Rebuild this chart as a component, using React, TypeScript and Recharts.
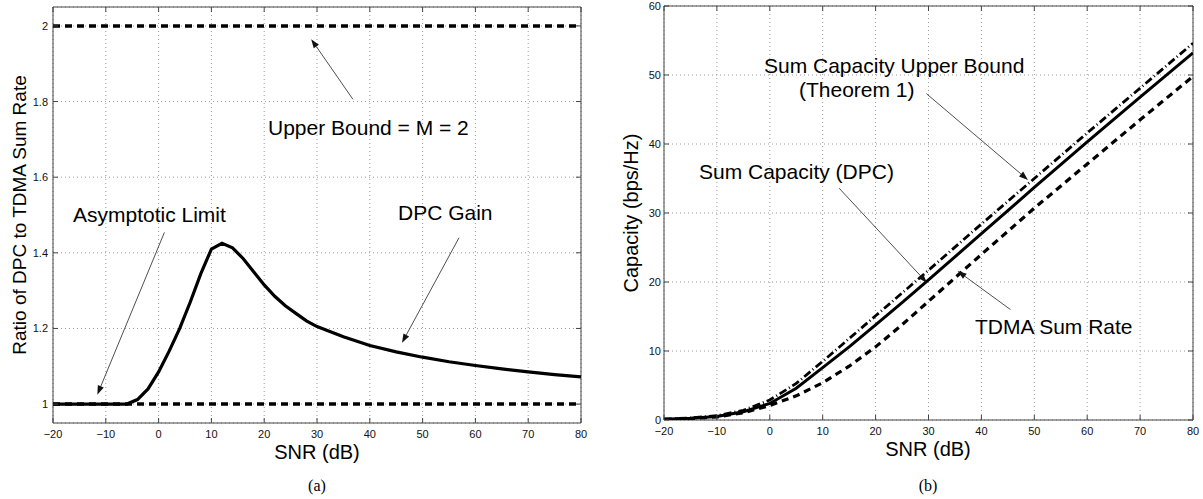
import React from 'react';
import { LineChart, Line, XAxis, YAxis, CartesianGrid, ReferenceLine, ReferenceArea } from 'recharts';

// ---------- data ----------
const snrTicks = [-20, -10, 0, 10, 20, 30, 40, 50, 60, 70, 80];
const ratioTicks = [1, 1.2, 1.4, 1.6, 1.8, 2];
const capTicks = [0, 10, 20, 30, 40, 50, 60];

const gainSnr = [-20, -6, -4, -2, 0, 2, 4, 6, 8, 10, 12, 14, 16, 18, 20, 22, 24, 26, 28, 30, 35, 40, 45, 50, 55, 60, 65, 70, 75, 80];
const gainRatio = [1.0, 1.0, 1.012, 1.04, 1.085, 1.14, 1.2, 1.27, 1.345, 1.41, 1.425, 1.413, 1.385, 1.35, 1.315, 1.285, 1.26, 1.24, 1.22, 1.205, 1.178, 1.155, 1.138, 1.124, 1.112, 1.102, 1.093, 1.085, 1.078, 1.072];

const boundSnr = [-20, 80];
const upperBoundRatio = [2, 2];
const lowerBoundRatio = [1, 1];

const capSnr = [-20, -15, -10, -5, 0, 5, 10, 15, 20, 25, 30, 40, 50, 60, 70, 80];
const dpcCap = [0.1, 0.25, 0.5, 1.2, 2.4, 4.6, 7.6, 10.6, 13.8, 17.0, 20.3, 27.0, 33.7, 40.3, 46.8, 53.2];
const upperCap = [0.12, 0.3, 0.62, 1.4, 2.9, 5.3, 8.5, 11.8, 15.1, 18.4, 21.7, 28.4, 35.0, 41.6, 48.1, 54.6];
const tdmaCap = [0.08, 0.2, 0.45, 1.05, 2.1, 3.5, 5.4, 7.8, 10.6, 13.8, 17.2, 24.0, 30.7, 37.1, 43.5, 49.8];

const gainData = gainSnr.map((s, i) => ({ snr: s, v: gainRatio[i] }));
const upperBoundData = boundSnr.map((s, i) => ({ snr: s, v: upperBoundRatio[i] }));
const lowerBoundData = boundSnr.map((s, i) => ({ snr: s, v: lowerBoundRatio[i] }));
const dpcData = capSnr.map((s, i) => ({ snr: s, v: dpcCap[i] }));
const upperCapData = capSnr.map((s, i) => ({ snr: s, v: upperCap[i] }));
const tdmaData = capSnr.map((s, i) => ({ snr: s, v: tdmaCap[i] }));

// ---------- styles ----------
const FONT = "'Liberation Sans', Arial, Helvetica, sans-serif";
const SERIF = "'Liberation Serif', 'Times New Roman', serif";
const AXIS = '#444';
const GRID = '#9a9a9a';

const makeXTick = (plotH: number) => (props: any) => {
  const { x, y, payload } = props;
  return (
    <g>
      <line x1={x} y1={y} x2={x} y2={y - 5} stroke={AXIS} strokeWidth={1} />
      <line x1={x} y1={y - plotH} x2={x} y2={y - plotH + 5} stroke={AXIS} strokeWidth={1} />
      <text x={x} y={y + 11} textAnchor="middle" dominantBaseline="central" fontFamily={FONT} fontSize={11} fill="#111">
        {payload.value < 0 ? '\u2212' + Math.abs(payload.value) : String(payload.value)}
      </text>
    </g>
  );
};

const makeYTick = (plotW: number, gap: number) => (props: any) => {
  const { x, y, payload } = props;
  return (
    <g>
      <line x1={x} y1={y} x2={x + 5} y2={y} stroke={AXIS} strokeWidth={1} />
      <line x1={x + plotW} y1={y} x2={x + plotW - 5} y2={y} stroke={AXIS} strokeWidth={1} />
      <text x={x - gap} y={y} textAnchor="end" dominantBaseline="central" fontFamily={FONT} fontSize={11} fill="#111">
        {String(payload.value)}
      </text>
    </g>
  );
};

const arrowShape = (props: any) => {
  const { x1, y1, x2, y2 } = props;
  const ang = Math.atan2(y2 - y1, x2 - x1);
  const L = 9;
  const Wd = 3.2;
  const bx = x2 - L * Math.cos(ang);
  const by = y2 - L * Math.sin(ang);
  const px = -Math.sin(ang) * Wd;
  const py = Math.cos(ang) * Wd;
  return (
    <g>
      <line x1={x1} y1={y1} x2={bx} y2={by} stroke="#222" strokeWidth={0.8} />
      <polygon points={`${x2},${y2} ${bx + px},${by + py} ${bx - px},${by - py}`} fill="#111" />
    </g>
  );
};

// left chart geometry
const L_W = 600, L_H = 460;
const L_M = { top: 7, right: 19, bottom: 17, left: 0 };
const L_YW = 53, L_XH = 20;
const L_PW = L_W - L_M.left - L_M.right - L_YW;
const L_PH = L_H - L_M.top - L_M.bottom - L_XH;

// right chart geometry
const R_W = 603, R_H = 460;
const R_M = { top: 6, right: 10, bottom: 20, left: 0 };
const R_YW = 64, R_XH = 20;
const R_PW = R_W - R_M.left - R_M.right - R_YW;
const R_PH = R_H - R_M.top - R_M.bottom - R_XH;

export default function App() {
  return (
    <div style={{ position: 'absolute', left: 0, top: 0, width: 1203, height: 499, background: '#fff', overflow: 'hidden' }}>
      <div style={{ position: 'absolute', left: 0, top: 0 }}>
        <LineChart width={L_W} height={L_H} margin={L_M}>
          <CartesianGrid stroke={GRID} strokeDasharray="1 3" />
          <XAxis dataKey="snr" type="number" domain={[-20, 80]} ticks={snrTicks} interval={0}
            height={L_XH} tickSize={0} tickMargin={0} tickLine={false} axisLine={false} tick={makeXTick(L_PH)} allowDataOverflow />
          <YAxis type="number" domain={[0.95, 2.05]} ticks={ratioTicks} interval={0}
            width={L_YW} tickSize={0} tickMargin={0} tickLine={false} axisLine={false} tick={makeYTick(L_PW, 5)} allowDataOverflow />
          <ReferenceArea x1={-20} x2={80} y1={0.95} y2={2.05} fill="none" stroke={AXIS} strokeWidth={1} ifOverflow="visible" />
          <Line data={upperBoundData} dataKey="v" stroke="#000" strokeWidth={3.5} strokeDasharray="7 5" dot={false} isAnimationActive={false} />
          <Line data={lowerBoundData} dataKey="v" stroke="#000" strokeWidth={3.5} strokeDasharray="7 5" dot={false} isAnimationActive={false} />
          <Line data={gainData} dataKey="v" stroke="#000" strokeWidth={3.2} dot={false} isAnimationActive={false} />
          <ReferenceLine segment={[{ x: 36.8, y: 1.806 }, { x: 28.9, y: 1.965 }]} shape={arrowShape} />
          <ReferenceLine segment={[{ x: 1.1, y: 1.454 }, { x: -11.6, y: 1.025 }]} shape={arrowShape} />
          <ReferenceLine segment={[{ x: 56.9, y: 1.44 }, { x: 46.1, y: 1.162 }]} shape={arrowShape} />
        </LineChart>
      </div>
      <div style={{ position: 'absolute', left: 600, top: 0 }}>
        <LineChart width={R_W} height={R_H} margin={R_M}>
          <CartesianGrid stroke={GRID} strokeDasharray="1 3" />
          <XAxis dataKey="snr" type="number" domain={[-20, 80]} ticks={snrTicks} interval={0}
            height={R_XH} tickSize={0} tickMargin={0} tickLine={false} axisLine={false} tick={makeXTick(R_PH)} allowDataOverflow />
          <YAxis type="number" domain={[0, 60]} ticks={capTicks} interval={0}
            width={R_YW} tickSize={0} tickMargin={0} tickLine={false} axisLine={false} tick={makeYTick(R_PW, 3)} allowDataOverflow />
          <ReferenceArea x1={-20} x2={80} y1={0} y2={60} fill="none" stroke={AXIS} strokeWidth={1} ifOverflow="visible" />
          <Line data={tdmaData} dataKey="v" stroke="#000" strokeWidth={3.2} strokeDasharray="7 5" dot={false} isAnimationActive={false} />
          <Line data={upperCapData} dataKey="v" stroke="#000" strokeWidth={2.8} strokeDasharray="8 3 1 3" dot={false} isAnimationActive={false} />
          <Line data={dpcData} dataKey="v" stroke="#000" strokeWidth={3} dot={false} isAnimationActive={false} />
          <ReferenceLine segment={[{ x: 29.6, y: 47.3 }, { x: 48.8, y: 34.8 }]} shape={arrowShape} />
          <ReferenceLine segment={[{ x: 13.1, y: 33.6 }, { x: 29.7, y: 19.9 }]} shape={arrowShape} />
          <ReferenceLine segment={[{ x: 45.5, y: 16.0 }, { x: 35.5, y: 21.6 }]} shape={arrowShape} />
        </LineChart>
      </div>
      <svg width={1203} height={499} style={{ position: 'absolute', left: 0, top: 0, pointerEvents: 'none' }}>
        <g fontFamily={FONT} fill="#000">
          <text x={19} y={215} fontSize={19} textAnchor="middle" dominantBaseline="central" transform="rotate(-90, 19, 215)">Ratio of DPC to TDMA Sum Rate</text>
          <text x={317} y={459} fontSize={20} textAnchor="middle">SNR (dB)</text>
          <text x={268} y={135} fontSize={21}>Upper Bound = M = 2</text>
          <text x={73} y={222} fontSize={21}>Asymptotic Limit</text>
          <text x={398} y={220} fontSize={21}>DPC Gain</text>

          <text x={631} y={213} fontSize={20} textAnchor="middle" dominantBaseline="central" transform="rotate(-90, 631, 213)">Capacity (bps/Hz)</text>
          <text x={928} y={456} fontSize={20} textAnchor="middle">SNR (dB)</text>
          <text x={764} y={73} fontSize={21}>Sum Capacity Upper Bound</text>
          <text x={799} y={97} fontSize={21}>(Theorem 1)</text>
          <text x={699} y={179} fontSize={21}>Sum Capacity (DPC)</text>
          <text x={975} y={334} fontSize={21}>TDMA Sum Rate</text>
        </g>
        <g fontFamily={SERIF} fill="#000">
          <text x={317} y={491} fontSize={16} textAnchor="middle">(a)</text>
          <text x={928} y={491} fontSize={16} textAnchor="middle">(b)</text>
        </g>
      </svg>
    </div>
  );
}
